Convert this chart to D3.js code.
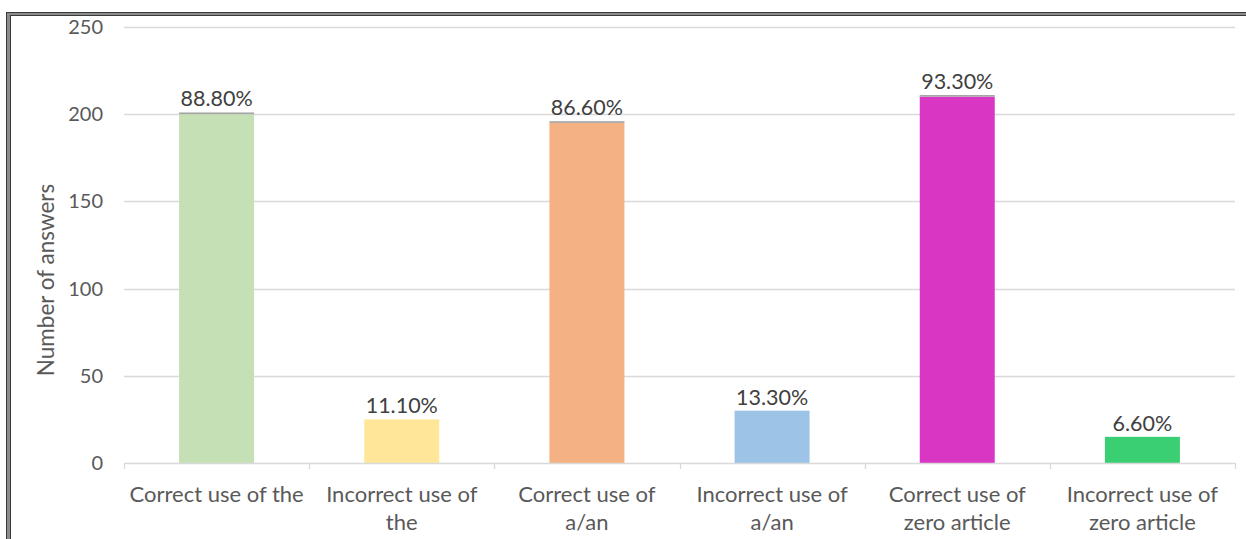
<!DOCTYPE html>
<html>
<head>
<meta charset="utf-8">
<script src="https://cdn.jsdelivr.net/npm/d3@7"></script>
<style>
  body { margin: 0; background: #fff; }
  svg { display: block; font-family: Lato, "Open Sans", sans-serif; }
</style>
</head>
<body>
<script>
(function () {
  "use strict";
  var categories = [
      "Correct use of the",
      "Incorrect use of\nthe",
      "Correct use of\na/an",
      "Incorrect use of\na/an",
      "Correct use of\nzero article",
      "Incorrect use of\nzero article"
    ],
    answers = [200, 25, 195, 30, 210, 15],
    edge = [1, 0, 1, 0, 1, 0], // thin grey cap seen on the "correct" bars
    percentLabels = ["88.80%", "11.10%", "86.60%", "13.30%", "93.30%", "6.60%"],
    colors = ["#C5E0B4", "#FFE699", "#F4B183", "#9DC3E6", "#D936C4", "#3ACF73"],
    yTicks = [0, 50, 100, 150, 200, 250];

  var width = 1246, height = 539,
    left = 124, right = 1235, top = 27, bottom = 463;

  var svg = d3.select("body").append("svg")
    .attr("width", width)
    .attr("height", height);

  // frame
  svg.append("rect").attr("x", 8.5).attr("y", 14).attr("width", 1300).attr("height", 600)
    .attr("fill", "none").attr("stroke", "#8c8c8c").attr("stroke-width", 4);
  svg.append("rect").attr("x", 6.5).attr("y", 12.5).attr("width", 1300).attr("height", 600)
    .attr("fill", "none").attr("stroke", "#3a3a3a").attr("stroke-width", 1);
  svg.append("rect").attr("x", 10.5).attr("y", 15.5).attr("width", 1300).attr("height", 600)
    .attr("fill", "none").attr("stroke", "#3a3a3a").attr("stroke-width", 1);

  var x = d3.scaleBand().domain(d3.range(categories.length))
    .range([left, right]).paddingInner(0.595).paddingOuter(0.2975);
  var xb = d3.scaleBand().domain(d3.range(categories.length)).range([left, right]);
  var y = d3.scaleLinear().domain([0, 250]).range([bottom, top]);

  // gridlines
  svg.append("g").selectAll("line").data(yTicks.slice(1)).enter().append("line")
    .attr("x1", left).attr("x2", right)
    .attr("y1", function (d) { return Math.round(y(d)) + 0.5; })
    .attr("y2", function (d) { return Math.round(y(d)) + 0.5; })
    .attr("stroke", "#d9d9d9").attr("stroke-width", 1.3);

  // y tick labels
  svg.append("g").selectAll("text").data(yTicks).enter().append("text")
    .attr("x", 103).attr("y", function (d) { return y(d); })
    .attr("dy", "0.35em").attr("text-anchor", "end")
    .attr("font-size", 20).attr("fill", "#595959")
    .text(function (d) { return d; });

  // bars
  svg.append("g").selectAll("rect").data(answers).enter().append("rect")
    .attr("x", function (d, i) { return x(i); })
    .attr("width", x.bandwidth())
    .attr("y", function (d) { return y(d); })
    .attr("height", function (d) { return y(0) - y(d); })
    .attr("fill", function (d, i) { return colors[i]; });

  svg.append("g").selectAll("rect").data(edge).enter().append("rect")
    .attr("x", function (d, i) { return x(i); })
    .attr("width", x.bandwidth())
    .attr("y", function (d, i) { return y(answers[i] + d); })
    .attr("height", function (d, i) { return y(answers[i]) - y(answers[i] + d); })
    .attr("fill", "#a6a6a6");

  // value labels
  svg.append("g").selectAll("text").data(percentLabels).enter().append("text")
    .attr("x", function (d, i) { return x(i) + x.bandwidth() / 2; })
    .attr("y", function (d, i) { return y(answers[i] + edge[i]) - 6; })
    .attr("text-anchor", "middle")
    .attr("font-size", 21.5).attr("fill", "#404040")
    .text(function (d) { return d; });

  // x axis
  var ax = svg.append("g");
  ax.append("line").attr("x1", left).attr("x2", right)
    .attr("y1", bottom + 0.5).attr("y2", bottom + 0.5)
    .attr("stroke", "#d9d9d9").attr("stroke-width", 1.3);
  ax.selectAll(".tick").data(d3.range(categories.length + 1)).enter().append("line")
    .attr("x1", function (d) { return Math.round(left + d * xb.step()) + 0.5; })
    .attr("x2", function (d) { return Math.round(left + d * xb.step()) + 0.5; })
    .attr("y1", bottom).attr("y2", bottom + 6)
    .attr("stroke", "#d9d9d9").attr("stroke-width", 1.3);

  var labels = ax.selectAll(".lab").data(categories).enter().append("text")
    .attr("text-anchor", "middle")
    .attr("font-size", 22).attr("fill", "#595959")
    .attr("transform", function (d, i) {
      return "translate(" + (xb(i) + xb.bandwidth() / 2) + "," + 502 + ")";
    });
  labels.selectAll("tspan").data(function (d) { return d.split("\n"); })
    .enter().append("tspan")
    .attr("x", 0).attr("y", function (d, j) { return j * 28; })
    .text(function (d) { return d; });

  // y title
  svg.append("text")
    .attr("transform", "translate(54," + 280 + ") rotate(-90)")
    .attr("text-anchor", "middle")
    .attr("font-size", 22.5).attr("fill", "#595959")
    .text("Number of answers");
})();
</script>
</body>
</html>
